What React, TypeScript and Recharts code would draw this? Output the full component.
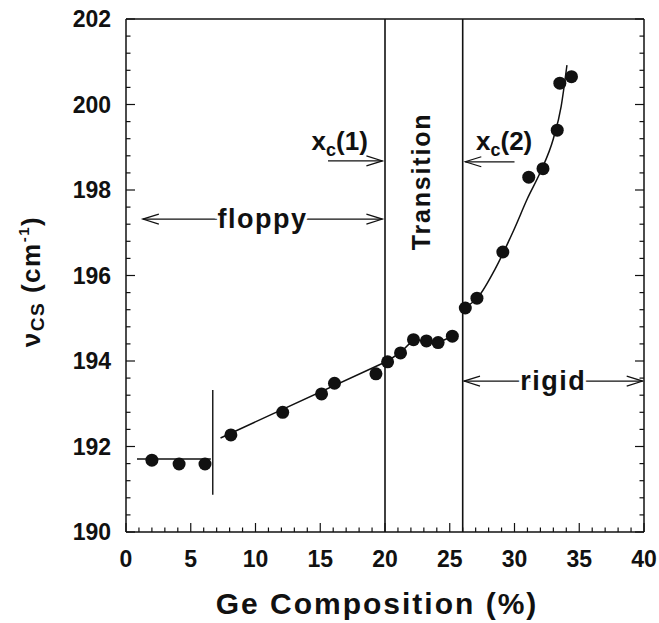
import React from 'react';
import { ComposedChart, Line, Scatter, XAxis, YAxis, ReferenceLine, ReferenceDot, Label } from 'recharts';

// measured Raman mode frequency vs Ge content
const geContent = [2.0, 4.1, 6.1, 8.1, 12.1, 15.1, 16.1, 19.3, 20.2, 21.2, 22.2, 23.2, 24.1, 25.2, 26.2, 27.1, 29.1, 31.1, 32.2, 33.3, 33.5, 34.4];
const nuCS = [191.68, 191.59, 191.59, 192.27, 192.8, 193.23, 193.48, 193.7, 193.98, 194.19, 194.5, 194.47, 194.43, 194.58, 195.24, 195.47, 196.55, 198.3, 198.5, 199.4, 200.5, 200.65];

// guide lines through the three regimes
const flatFitX = [0.85, 6.55];
const flatFitY = [191.71, 191.71];
const midFitX = [7.3, 20.2, 21.2, 22.2, 23.2, 24.1, 25.2];
const midFitY = [192.2, 194.0, 194.2, 194.5, 194.47, 194.43, 194.58];
const rigidFitX = [26.2, 27.2, 28.5, 30.0, 31.0, 32.0, 33.0, 33.6, 34.05];
const rigidFitY = [195.25, 195.5, 196.15, 197.1, 197.8, 198.42, 199.2, 199.95, 200.92];

// phase boundaries
const xc1 = 20;
const xc2 = 26;
const stepX = 6.7;
const stepY = [190.87, 193.32];

// axis ticks
const xMajorTicks = [0, 5, 10, 15, 20, 25, 30, 35, 40];
const yMajorTicks = [190, 192, 194, 196, 198, 200, 202];
const xTicks = Array.from({ length: 41 }, (_, i) => i);
const yTicks = Array.from({ length: 31 }, (_, i) => +(190 + i * 0.4).toFixed(1));

const points = geContent.map((x, i) => ({ x, y: nuCS[i] }));
const toRows = (xs: number[], ys: number[]) => xs.map((x, i) => ({ x, y: ys[i] }));

const FONT = '"Liberation Sans", Arial, Helvetica, sans-serif';
const INK = '#111';

const isMajorX = (v: number) => xMajorTicks.includes(v);
const isMajorY = (v: number) => yMajorTicks.some((t) => Math.abs(t - v) < 1e-6);

const BottomTick = ({ x, y, payload }: any) => {
  const major = isMajorX(payload.value);
  return (
    <g>
      <line x1={x} y1={y} x2={x} y2={y - (major ? 9 : 4.5)} stroke={INK} strokeWidth={1.2} />
      {major && (
        <text x={x} y={y + 35} textAnchor="middle" fontFamily={FONT} fontWeight="bold" fontSize={23} fill={INK}>
          {payload.value}
        </text>
      )}
    </g>
  );
};

const TopTick = ({ x, y, payload }: any) => {
  const major = isMajorX(payload.value);
  return <line x1={x} y1={y} x2={x} y2={y + (major ? 9 : 4.5)} stroke={INK} strokeWidth={1.2} />;
};

const LeftTick = ({ x, y, payload }: any) => {
  const major = isMajorY(payload.value);
  return (
    <g>
      <line x1={x} y1={y} x2={x + (major ? 9 : 4.5)} y2={y} stroke={INK} strokeWidth={1.2} />
      {major && (
        <text x={x - 15} y={y + 8} textAnchor="end" fontFamily={FONT} fontWeight="bold" fontSize={23} fill={INK}>
          {payload.value}
        </text>
      )}
    </g>
  );
};

const RightTick = ({ x, y, payload }: any) => {
  const major = isMajorY(payload.value);
  return <line x1={x} y1={y} x2={x - (major ? 9 : 4.5)} y2={y} stroke={INK} strokeWidth={1.2} />;
};

const Dot = ({ cx, cy }: any) => <circle cx={cx} cy={cy} r={6.5} fill={INK} />;

// open "<" style arrowhead at (x, y) pointing in direction dir (+1 right, -1 left)
const head = (x: number, y: number, dir: number) => (
  <path d={`M${x - dir * 16},${y - 5} L${x},${y} L${x - dir * 16},${y + 5}`} fill="none" stroke={INK} strokeWidth={1.2} />
);

const arrowShape = (heads: 'start' | 'end' | 'both', text?: string) => (p: any) => {
  const { x1, y1, x2, y2 } = p;
  const dir = x2 > x1 ? 1 : -1;
  return (
    <g>
      <line x1={x1} y1={y1} x2={x2} y2={y2} stroke={INK} strokeWidth={1.2} />
      {(heads === 'start' || heads === 'both') && head(x1, y1, -dir)}
      {(heads === 'end' || heads === 'both') && head(x2, y2, dir)}
      {text && (
        <text
          x={(x1 + x2) / 2}
          y={y1 + 9}
          textAnchor="middle"
          fontFamily={FONT}
          fontWeight="bold"
          fontSize={27}
          letterSpacing={1.5}
          fill={INK}
          stroke="#fff"
          strokeWidth={6}
          paintOrder="stroke"
        >
          {text}
        </text>
      )}
    </g>
  );
};

const critLabel = (n: string) => (p: any) => (
  <text x={p.cx} y={p.cy} textAnchor="middle" fontFamily={FONT} fontWeight="bold" fontSize={26} fill={INK}>
    x
    <tspan fontSize={18} dy={6}>c</tspan>
    <tspan dy={-6}>({n})</tspan>
  </text>
);

const transitionLabel = (p: any) => (
  <text
    x={p.cx}
    y={p.cy}
    transform={`rotate(-90 ${p.cx} ${p.cy})`}
    textAnchor="middle"
    fontFamily={FONT}
    fontWeight="bold"
    fontSize={25}
    letterSpacing={1.8}
    fill={INK}
  >
    Transition
  </text>
);

const yTitle = ({ viewBox }: any) => {
  const cx = viewBox.x - 6;
  const cy = viewBox.y + viewBox.height / 2 + 6;
  return (
    <text
      x={cx}
      y={cy}
      transform={`rotate(-90 ${cx} ${cy})`}
      textAnchor="middle"
      fontFamily={FONT}
      fontWeight="bold"
      fontSize={26}
      letterSpacing={1.5}
      fill={INK}
    >
      ν
      <tspan fontSize={19} dy={4}>CS</tspan>
      <tspan dy={-4}> (cm</tspan>
      <tspan fontSize={15} dy={-11}>-1</tspan>
      <tspan dy={11}>)</tspan>
    </text>
  );
};

const xTitle = ({ viewBox }: any) => (
  <text
    x={viewBox.x + viewBox.width / 2 - 8}
    y={viewBox.y + 82}
    textAnchor="middle"
    fontFamily={FONT}
    fontWeight="bold"
    fontSize={30}
    letterSpacing={2}
    fill={INK}
  >
    Ge Composition (%)
  </text>
);

export default function App() {
  return (
    <div style={{ position: 'absolute', left: 0, top: 0, width: 659, height: 623, background: '#fff' }}>
      <ComposedChart width={659} height={623} margin={{ top: 18, right: 14, bottom: 31, left: 46 }}>
        <XAxis
          xAxisId="b"
          dataKey="x"
          type="number"
          domain={[0, 40]}
          ticks={xTicks}
          interval={0}
          height={60}
          tickSize={0}
          tickMargin={0}
          tickLine={false}
          tick={<BottomTick />}
          axisLine={{ stroke: INK, strokeWidth: 1.5 }}
          allowDataOverflow
        >
          <Label content={xTitle} />
        </XAxis>
        <XAxis
          xAxisId="t"
          orientation="top"
          type="number"
          domain={[0, 40]}
          ticks={xTicks}
          interval={0}
          height={1}
          tickSize={0}
          tickMargin={0}
          tickLine={false}
          tick={<TopTick />}
          axisLine={{ stroke: INK, strokeWidth: 1.5 }}
          allowDataOverflow
        />
        <YAxis
          yAxisId="l"
          dataKey="y"
          type="number"
          domain={[190, 202]}
          ticks={yTicks}
          interval={0}
          width={80}
          tickSize={0}
          tickMargin={0}
          tickLine={false}
          tick={<LeftTick />}
          axisLine={{ stroke: INK, strokeWidth: 1.5 }}
          allowDataOverflow
        >
          <Label content={yTitle} />
        </YAxis>
        <YAxis
          yAxisId="r"
          orientation="right"
          type="number"
          domain={[190, 202]}
          ticks={yTicks}
          interval={0}
          width={1}
          tickSize={0}
          tickMargin={0}
          tickLine={false}
          tick={<RightTick />}
          axisLine={{ stroke: INK, strokeWidth: 1.5 }}
          allowDataOverflow
        />

        <ReferenceLine xAxisId="b" yAxisId="l" x={xc1} stroke={INK} strokeWidth={1.6} />
        <ReferenceLine xAxisId="b" yAxisId="l" x={xc2} stroke={INK} strokeWidth={1.6} />
        <ReferenceLine
          xAxisId="b"
          yAxisId="l"
          segment={[{ x: stepX, y: stepY[0] }, { x: stepX, y: stepY[1] }]}
          stroke={INK}
          strokeWidth={1.4}
        />

        <ReferenceLine
          xAxisId="b"
          yAxisId="l"
          segment={[{ x: 1.3, y: 197.32 }, { x: 19.8, y: 197.32 }]}
          shape={arrowShape('both', 'floppy')}
        />
        <ReferenceLine
          xAxisId="b"
          yAxisId="l"
          segment={[{ x: 26.1, y: 193.53 }, { x: 39.9, y: 193.53 }]}
          shape={arrowShape('both', 'rigid')}
        />
        <ReferenceLine
          xAxisId="b"
          yAxisId="l"
          segment={[{ x: 15.6, y: 198.68 }, { x: 19.8, y: 198.68 }]}
          shape={arrowShape('end')}
        />
        <ReferenceLine
          xAxisId="b"
          yAxisId="l"
          segment={[{ x: 30.0, y: 198.66 }, { x: 26.2, y: 198.66 }]}
          shape={arrowShape('end')}
        />
        <ReferenceDot xAxisId="b" yAxisId="l" x={16.5} y={198.94} r={0} shape={critLabel('1')} />
        <ReferenceDot xAxisId="b" yAxisId="l" x={29.2} y={198.94} r={0} shape={critLabel('2')} />
        <ReferenceDot xAxisId="b" yAxisId="l" x={23.45} y={198.2} r={0} shape={transitionLabel} />

        <Line xAxisId="b" yAxisId="l" data={toRows(flatFitX, flatFitY)} dataKey="y" type="linear" stroke={INK} strokeWidth={1.5} dot={false} activeDot={false} isAnimationActive={false} />
        <Line xAxisId="b" yAxisId="l" data={toRows(midFitX, midFitY)} dataKey="y" type="linear" stroke={INK} strokeWidth={1.5} dot={false} activeDot={false} isAnimationActive={false} />
        <Line xAxisId="b" yAxisId="l" data={toRows(rigidFitX, rigidFitY)} dataKey="y" type="monotone" stroke={INK} strokeWidth={1.5} dot={false} activeDot={false} isAnimationActive={false} />
        <Scatter xAxisId="b" yAxisId="l" data={points} dataKey="y" shape={<Dot />} isAnimationActive={false} />
      </ComposedChart>
    </div>
  );
}
